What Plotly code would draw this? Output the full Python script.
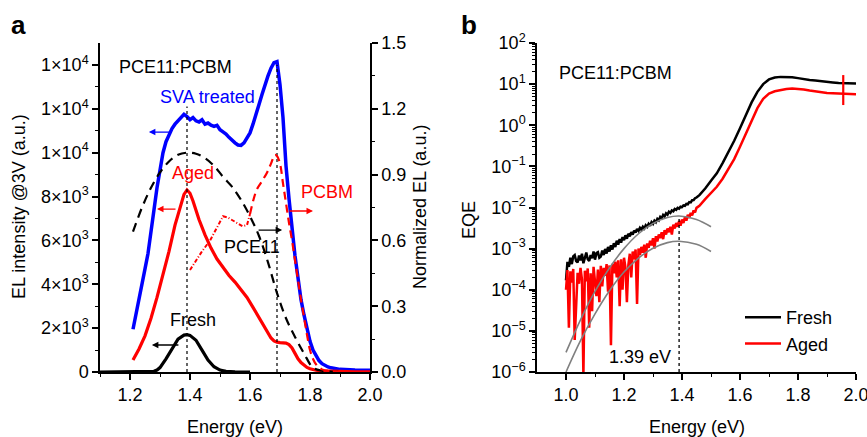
import plotly.graph_objects as go

W, H = 867, 437

# ---------------- Panel a data ----------------
sva_energy = [1.21, 1.22, 1.23, 1.24, 1.25, 1.26, 1.27, 1.28, 1.29, 1.30,
              1.31, 1.32, 1.33, 1.34, 1.35, 1.36, 1.37, 1.38, 1.39, 1.40,
              1.41, 1.42, 1.43, 1.44, 1.45, 1.46, 1.47, 1.48, 1.49, 1.50,
              1.51, 1.52, 1.53, 1.54, 1.55, 1.56, 1.57, 1.58, 1.59, 1.60,
              1.61, 1.62, 1.63, 1.64, 1.65, 1.66, 1.67, 1.68, 1.69, 1.70,
              1.71, 1.72, 1.73, 1.74, 1.75, 1.76, 1.77, 1.78, 1.79, 1.80,
              1.81, 1.82, 1.83, 1.84, 1.85, 1.86, 1.87, 1.88, 1.89, 1.90,
              1.95, 2.00]
sva_counts = [1950, 2600, 3300, 4000, 4700, 5400, 6300, 7400, 8400, 9300,
              10000, 10500, 10850, 11100, 11300, 11450, 11600, 11750, 11650, 11500,
              11600, 11450, 11400, 11500, 11300, 11350, 11250, 11200, 11250, 11050,
              10950, 10850, 10700, 10550, 10450, 10350, 10330, 10450, 10650, 10900,
              11300, 11700, 12200, 12650, 13100, 13500, 13850, 14100, 14150, 13100,
              11600, 9400, 7900, 6500, 5300, 4300, 3300, 2600, 1900, 1400,
              1000, 720, 520, 380, 290, 230, 190, 160, 140, 120,
              90, 80]

aged_energy = [1.21, 1.23, 1.25, 1.27, 1.29, 1.31, 1.33, 1.35, 1.37, 1.38,
               1.39, 1.40, 1.41, 1.43, 1.45, 1.47, 1.49, 1.51, 1.53, 1.55,
               1.57, 1.59, 1.61, 1.63, 1.65, 1.67, 1.68, 1.69, 1.70, 1.71,
               1.72, 1.73, 1.74, 1.75, 1.76, 1.77, 1.78, 1.79, 1.80, 1.82,
               1.84, 1.87, 1.90, 1.95, 2.00]
aged_counts = [550, 1050, 1650, 2450, 3400, 4400, 5500, 6700, 7700, 8100,
               8300, 8150, 7800, 6950, 6250, 5650, 5150, 4750, 4400, 4100,
               3750, 3400, 2950, 2500, 2000, 1550, 1420, 1360, 1340, 1340,
               1320, 1250, 1100, 850, 600, 430, 300, 210, 150, 80,
               50, 30, 20, 10, 5]

fresh_energy = [1.10, 1.20, 1.26, 1.28, 1.29, 1.30, 1.32, 1.34, 1.36, 1.38,
                1.39, 1.40, 1.42, 1.44, 1.46, 1.48, 1.50, 1.52, 1.55, 1.60]
fresh_counts = [0, 0, 0, 30, 90, 200, 600, 1050, 1500, 1680,
                1700, 1670, 1450, 1000, 540, 240, 90, 30, 5, 0]

pce11_energy = [1.21, 1.24, 1.27, 1.30, 1.33, 1.36, 1.39, 1.42, 1.45, 1.48,
                1.51, 1.54, 1.57, 1.60, 1.63, 1.66, 1.69, 1.72, 1.75, 1.78,
                1.81, 1.84, 1.87, 1.90]
pce11_norm = [0.64, 0.75, 0.84, 0.91, 0.96, 0.99, 1.00, 0.995, 0.975, 0.94,
              0.89, 0.845, 0.785, 0.71, 0.62, 0.50, 0.36, 0.245, 0.16, 0.085,
              0.02, 0.006, 0.002, 0.0]

pcbm_low_energy = [1.40, 1.42, 1.44, 1.467, 1.49, 1.51, 1.525, 1.543, 1.56, 1.575,
                   1.59, 1.60]
pcbm_low_norm = [0.465, 0.51, 0.55, 0.60, 0.66, 0.71, 0.705, 0.69, 0.675, 0.665,
                 0.67, 0.72]
pcbm_high_energy = [1.60, 1.622, 1.64, 1.657, 1.67, 1.683, 1.69, 1.70, 1.71, 1.72,
                    1.73, 1.74, 1.75, 1.76, 1.77, 1.78, 1.79, 1.80, 1.81, 1.82,
                    1.84, 1.87, 1.90]
pcbm_high_norm = [0.72, 0.83, 0.87, 0.91, 0.95, 0.99, 0.985, 0.95, 0.86, 0.77,
                  0.68, 0.60, 0.51, 0.42, 0.33, 0.25, 0.17, 0.10, 0.06, 0.035,
                  0.012, 0.004, 0.0]

peak_energy = [1.39, 1.69]
peak_height = [12100, 14000]

a_x_tickvals = [1.2, 1.4, 1.6, 1.8, 2.0]
a_x_ticktext = ["1.2", "1.4", "1.6", "1.8", "2.0"]
a_x_minor = [1.1, 1.3, 1.5, 1.7, 1.9]
a_top_ticks = [1.2, 1.3, 1.4, 1.5, 1.6, 1.7, 1.8, 1.9]
a_left_tickvals = [0, 2000, 4000, 6000, 8000, 10000, 12000, 14000]
a_left_ticktext = ["0", "2×10<sup>3</sup>", "4×10<sup>3</sup>", "6×10<sup>3</sup>",
                   "8×10<sup>3</sup>", "1×10<sup>4</sup>", "1×10<sup>4</sup>", "1×10<sup>4</sup>"]
a_left_minor = [1000, 3000, 5000, 7000, 9000, 11000, 13000]
a_right_tickvals = [0.0, 0.3, 0.6, 0.9, 1.2, 1.5]
a_right_ticktext = ["0.0", "0.3", "0.6", "0.9", "1.2", "1.5"]
a_right_minor = [0.15, 0.45, 0.75, 1.05, 1.35]

# ---------------- Panel b data ----------------
eqe_energy = [1.000, 1.005, 1.010, 1.015, 1.020, 1.025, 1.030, 1.035, 1.040, 1.045,
              1.050, 1.055, 1.060, 1.065, 1.070, 1.075, 1.080, 1.085, 1.090, 1.095,
              1.100, 1.105, 1.110, 1.115, 1.120, 1.125, 1.130, 1.135, 1.140, 1.145,
              1.150, 1.155, 1.160, 1.165, 1.170, 1.175, 1.180, 1.185, 1.190, 1.195,
              1.200, 1.205, 1.210, 1.215, 1.220, 1.225, 1.230, 1.235, 1.240, 1.245,
              1.250, 1.255, 1.260, 1.265, 1.270, 1.275, 1.280, 1.285, 1.290, 1.295,
              1.300, 1.305, 1.310, 1.315, 1.320, 1.325, 1.330, 1.335, 1.340, 1.345,
              1.350, 1.355, 1.360, 1.365, 1.370, 1.375, 1.380, 1.385, 1.390, 1.395,
              1.400, 1.405, 1.410, 1.415, 1.420, 1.425, 1.430, 1.435, 1.440, 1.445,
              1.450,
              1.46, 1.48, 1.50, 1.52, 1.54, 1.56, 1.58, 1.60, 1.62, 1.64,
              1.66, 1.68, 1.70, 1.72, 1.74, 1.76, 1.78, 1.80, 1.82, 1.84,
              1.86, 1.88, 1.90, 1.92, 1.94, 1.96, 1.98, 2.00]
eqe_fresh = [1.7e-4, 4.8e-4, 3.6e-4, 6.0e-4, 4.2e-4, 6.5e-4, 7.0e-4, 5.0e-4, 4.6e-4, 6.8e-4,
             5.2e-4, 7.5e-4, 4.4e-4, 6.6e-4, 8.0e-4, 5.5e-4, 5.0e-4, 7.0e-4, 5.8e-4, 8.5e-4,
             5.4e-4, 7.8e-4, 8.2e-4, 6.0e-4, 6.4e-4, 9.0e-4, 7.0e-4, 9.8e-4, 7.6e-4, 1.10e-3,
             8.5e-4, 1.20e-3, 9.5e-4, 1.35e-3, 1.10e-3, 1.55e-3, 1.25e-3, 1.70e-3, 1.40e-3, 1.90e-3,
             1.60e-3, 2.10e-3, 1.75e-3, 2.30e-3, 2.00e-3, 2.50e-3, 2.20e-3, 2.75e-3, 2.45e-3, 3.00e-3,
             2.70e-3, 3.20e-3, 2.90e-3, 3.40e-3, 3.10e-3, 3.70e-3, 3.40e-3, 4.00e-3, 3.60e-3, 4.40e-3,
             4.00e-3, 4.80e-3, 4.40e-3, 5.30e-3, 4.90e-3, 5.90e-3, 5.50e-3, 6.60e-3, 6.10e-3, 7.20e-3,
             6.70e-3, 7.90e-3, 7.40e-3, 8.50e-3, 8.10e-3, 9.20e-3, 8.80e-3, 9.80e-3, 9.40e-3, 1.05e-2,
             1.02e-2, 1.12e-2, 1.10e-2, 1.22e-2, 1.20e-2, 1.35e-2, 1.33e-2, 1.50e-2, 1.52e-2, 1.68e-2,
             1.75e-2,
             2.0e-2, 2.9e-2, 4.5e-2, 6.8e-2, 0.12, 0.22, 0.42, 0.85, 1.8, 3.6,
             6.5, 10.0, 13.0, 14.5, 15.0, 15.0, 14.7, 14.0, 13.2, 12.6,
             12.3, 12.0, 11.6, 11.0, 10.6, 10.5, 10.4, 10.4]
eqe_aged = [1.0e-4, 3.0e-4, 1.2e-5, 2.8e-4, 1.5e-4, 3.2e-4, 6.0e-6, 3.0e-5, 2.6e-4, 1.4e-4,
            3.4e-4, 1.8e-4, 8.0e-7, 2.9e-4, 1.6e-4, 3.3e-4, 1.2e-5, 2.5e-4, 3.0e-5, 3.6e-4,
            1.5e-4, 7.0e-5, 3.1e-4, 5.0e-5, 3.8e-4, 1.2e-4, 3.4e-4, 2.2e-4, 4.2e-4, 9.0e-5,
            3.9e-4, 4.5e-6, 4.3e-4, 2.5e-4, 4.8e-4, 2.0e-4, 5.2e-4, 4.0e-5, 5.5e-4, 1.0e-4,
            6.0e-4, 3.5e-4, 5.0e-5, 4.0e-4, 7.5e-4, 2.0e-4, 8.5e-4, 5.5e-4, 9.5e-4, 4.5e-5,
            1.00e-3, 7.0e-4, 1.10e-3, 8.0e-4, 1.25e-3, 6.0e-4, 1.35e-3, 1.05e-3, 1.55e-3, 1.20e-3,
            1.80e-3, 1.00e-3, 2.00e-3, 1.50e-3, 2.20e-3, 1.80e-3, 2.50e-3, 1.70e-3, 2.80e-3, 2.20e-3,
            3.10e-3, 2.50e-3, 3.40e-3, 2.20e-3, 3.80e-3, 3.10e-3, 4.20e-3, 3.40e-3, 4.70e-3, 3.60e-3,
            5.10e-3, 4.20e-3, 5.80e-3, 4.80e-3, 6.60e-3, 5.60e-3, 7.40e-3, 6.40e-3, 8.50e-3, 7.60e-3,
            9.8e-3,
            1.1e-2, 1.6e-2, 2.3e-2, 3.2e-2, 5.0e-2, 8.5e-2, 0.15, 0.30, 0.60, 1.25,
            2.6, 4.4, 5.9, 6.7, 7.2, 7.6, 7.8, 7.7, 7.4, 7.0,
            6.6, 6.3, 6.1, 6.0, 5.9, 5.8, 5.8, 5.7]

fit_energy = [1.00, 1.05, 1.10, 1.15, 1.20, 1.25, 1.30, 1.35, 1.39, 1.45, 1.50]
fit_fresh = [3.0e-6, 1.86e-5, 9.1e-5, 3.4e-4, 1.0e-3, 2.3e-3, 4.1e-3, 5.7e-3, 6.2e-3, 5.1e-3, 3.4e-3]
fit_aged = [1.0e-6, 5.8e-6, 2.6e-5, 9.5e-5, 2.7e-4, 5.9e-4, 1.02e-3, 1.40e-3, 1.51e-3, 1.27e-3, 8.5e-4]

ct_energy = [1.39, 1.39]
ct_eqe = [1e-6, 6.2e-3]
mark_energy = [1.956, 1.956]
mark_eqe = [16.6, 3.1]

b_x_tickvals = [1.0, 1.2, 1.4, 1.6, 1.8, 2.0]
b_x_ticktext = ["1.0", "1.2", "1.4", "1.6", "1.8", "2.0"]
b_x_minor = [1.1, 1.3, 1.5, 1.7, 1.9]
b_top_ticks = [1.0, 1.1, 1.2, 1.3, 1.4, 1.5, 1.6, 1.7, 1.8, 1.9]
b_y_tickvals = [1e-6, 1e-5, 1e-4, 1e-3, 1e-2, 1e-1, 1e0, 1e1, 1e2]
b_y_ticktext = ["10<sup>\u22126</sup>", "10<sup>\u22125</sup>", "10<sup>\u22124</sup>",
                "10<sup>\u22123</sup>", "10<sup>\u22122</sup>", "10<sup>\u22121</sup>",
                "10<sup>0</sup>", "10<sup>1</sup>", "10<sup>2</sup>"]
b_y_minor = [m * 10.0 ** k for k in range(-6, 2) for m in range(2, 10)]

FONT = "Liberation Sans, Arial, Helvetica, sans-serif"
BLUE, RED, BLACK, GRAY = "#0000ff", "#ff0000", "#000000", "#808080"


def px(x):
    return x / W


def py(y):
    return 1 - y / H


def axis(**kw):
    d = dict(showline=True, linecolor="black", linewidth=1.5, ticks="outside",
             ticklen=6, tickwidth=1.5, tickcolor="black", showgrid=False,
             zeroline=False, automargin=False, ticklabeloverflow="allow",
             tickfont=dict(size=18, family=FONT, color="black"))
    d.update(kw)
    return d


def minor(vals, ticks="outside", ln=3):
    return dict(tickmode="array", tickvals=vals, ticks=ticks, ticklen=ln,
                tickwidth=1.2, tickcolor="black", showgrid=False)


fig = go.Figure()

# Panel a traces
fig.add_trace(go.Scatter(x=sva_energy, y=sva_counts, mode="lines", name="SVA treated",
                         line=dict(color=BLUE, width=3.5), xaxis="x", yaxis="y", showlegend=False))
fig.add_trace(go.Scatter(x=aged_energy, y=aged_counts, mode="lines", name="Aged",
                         line=dict(color=RED, width=3.2), xaxis="x", yaxis="y", showlegend=False))
fig.add_trace(go.Scatter(x=fresh_energy, y=fresh_counts, mode="lines", name="Fresh",
                         line=dict(color=BLACK, width=3.2), xaxis="x", yaxis="y", showlegend=False))
fig.add_trace(go.Scatter(x=pce11_energy, y=pce11_norm, mode="lines", name="PCE11",
                         line=dict(color=BLACK, width=2.2, dash="9px,6px", shape="spline"),
                         xaxis="x", yaxis="y2", showlegend=False))
fig.add_trace(go.Scatter(x=pcbm_low_energy, y=pcbm_low_norm, mode="lines", name="PCBM",
                         line=dict(color=RED, width=2, dash="4px,2px,1px,2px"),
                         xaxis="x", yaxis="y2", showlegend=False))
fig.add_trace(go.Scatter(x=pcbm_high_energy, y=pcbm_high_norm, mode="lines", name="PCBM",
                         line=dict(color=RED, width=2.2, dash="8px,5px", shape="spline"),
                         xaxis="x", yaxis="y2", showlegend=False))
for e, h in zip(peak_energy, peak_height):
    fig.add_trace(go.Scatter(x=[e, e], y=[0, h], mode="lines",
                             line=dict(color=BLACK, width=1.2, dash="dot"),
                             xaxis="x", yaxis="y", showlegend=False, hoverinfo="skip"))

# Panel b traces
fig.add_trace(go.Scatter(x=eqe_energy, y=eqe_fresh, mode="lines", name="Fresh",
                         line=dict(color=BLACK, width=2.5), xaxis="x2", yaxis="y3",
                         legendgroup="fresh", showlegend=True))
fig.add_trace(go.Scatter(x=eqe_energy, y=eqe_aged, mode="lines", name="Aged",
                         line=dict(color=RED, width=2.5), xaxis="x2", yaxis="y3",
                         legendgroup="aged", showlegend=True))
fig.add_trace(go.Scatter(x=fit_energy, y=fit_fresh, mode="lines",
                         line=dict(color=GRAY, width=1.6, shape="spline"),
                         xaxis="x2", yaxis="y3", showlegend=False))
fig.add_trace(go.Scatter(x=fit_energy, y=fit_aged, mode="lines",
                         line=dict(color=GRAY, width=1.6, shape="spline"),
                         xaxis="x2", yaxis="y3", showlegend=False))
fig.add_trace(go.Scatter(x=ct_energy, y=ct_eqe, mode="lines",
                         line=dict(color=BLACK, width=1.3, dash="3px,3px"),
                         xaxis="x2", yaxis="y3", showlegend=False))
fig.add_trace(go.Scatter(x=mark_energy, y=mark_eqe, mode="lines",
                         line=dict(color=RED, width=2.2),
                         xaxis="x2", yaxis="y3", showlegend=False))

ydom = [py(372), py(43)]

fig.update_layout(
    width=W, height=H, autosize=False,
    margin=dict(l=0, r=0, t=0, b=0, pad=0, autoexpand=False),
    paper_bgcolor="white", plot_bgcolor="white",
    font=dict(family=FONT, size=18, color="black"),
    xaxis=axis(domain=[px(100), px(370)], range=[1.1, 2.0], anchor="y",
               tickmode="array", tickvals=a_x_tickvals, ticktext=a_x_ticktext,
               minor=minor(a_x_minor)),
    xaxis3=axis(overlaying="x", side="top", anchor="y", range=[1.1, 2.0],
                tickmode="array", tickvals=a_top_ticks, ticks="inside", ticklen=5,
                showticklabels=False),
    yaxis=axis(domain=ydom, range=[0, 15000], anchor="x",
               tickmode="array", tickvals=a_left_tickvals, ticktext=a_left_ticktext,
               minor=minor(a_left_minor)),
    yaxis2=axis(overlaying="y", side="right", anchor="x", range=[0, 1.5],
                tickmode="array", tickvals=a_right_tickvals, ticktext=a_right_ticktext,
                minor=minor(a_right_minor)),
    xaxis2=axis(domain=[px(537), px(856)], range=[0.9, 2.0], anchor="y3",
                tickmode="array", tickvals=b_x_tickvals, ticktext=b_x_ticktext,
                minor=minor(b_x_minor)),
    xaxis4=axis(overlaying="x2", side="top", anchor="y3", range=[0.9, 2.0],
                tickmode="array", tickvals=b_top_ticks, ticks="inside", ticklen=5,
                showticklabels=False),
    yaxis3=axis(domain=ydom, type="log", range=[-6, 2], anchor="x2",
                tickmode="array", tickvals=b_y_tickvals, ticktext=b_y_ticktext,
                minor=minor(b_y_minor)),
    yaxis4=axis(overlaying="y3", side="right", type="log", range=[-6, 2], anchor="x2",
                tickmode="array", tickvals=b_y_tickvals, ticks="inside", ticklen=4,
                showticklabels=False, minor=minor(b_y_minor, ticks="inside", ln=2)),
    legend=dict(x=px(740), y=py(299), xanchor="left", yanchor="top",
                bgcolor="rgba(0,0,0,0)", font=dict(size=18, family=FONT),
                tracegroupgap=0, itemwidth=36),
)

ann = []


def txt(text, x, y, color="black", size=18, xref="paper", yref="paper", **kw):
    ann.append(dict(text=text, x=x, y=y, xref=xref, yref=yref, showarrow=False,
                    xanchor="center", yanchor="middle",
                    font=dict(size=size, color=color, family=FONT), **kw))


def arrow(x, y, ax, color):
    ann.append(dict(text="", x=x, y=y, xref="x", yref="y", ax=ax, ay=0,
                    showarrow=True, arrowhead=2, arrowsize=1, arrowwidth=1.3,
                    arrowcolor=color))


# panel letters
txt("<b>a</b>", px(18), py(25), size=26)
txt("<b>b</b>", px(469), py(25), size=26)

# panel a text
txt("PCE11:PCBM", px(175), py(67))
txt("SVA treated", px(207), py(97), color=BLUE)
txt("Aged", px(193), py(173), color=RED)
txt("Fresh", px(193), py(320))
txt("PCE11", px(252), py(247))
txt("PCBM", px(327), py(192), color=RED)
arrow(1.263, 10940, 23, BLUE)
arrow(1.29, 7430, 20, RED)
arrow(1.273, 1230, 28, BLACK)
arrow(1.707, 6470, -25, BLACK)
arrow(1.81, 7340, -25, RED)

# axis titles
txt("EL intensity @3V (a.u.)", px(19), py(207), textangle=-90)
txt("Normalized EL (a.u.)", px(420), py(207), textangle=-90)
txt("Energy (eV)", px(235), py(427))
txt("EQE", px(469), py(220), textangle=-90)
txt("Energy (eV)", px(697), py(427))

# panel b text
txt("PCE11:PCBM", px(615), py(73))
txt("1.39 eV", px(640), py(357))

fig.update_layout(annotations=ann)
fig.write_html("out.html", config={"displayModeBar": False},
               post_script="document.body.style.margin='0';document.body.style.overflow='hidden';")
